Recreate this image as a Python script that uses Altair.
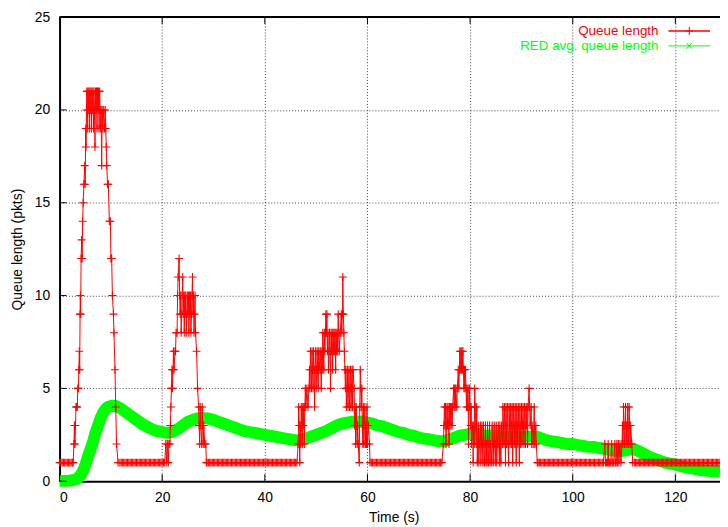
import altair as alt
import pandas as pd

# ---------------- data ----------------
# Queue length (pkts) during the bursts: (time s, packets)
BURST_1 = [(0.0, 1), (0.25, 1), (0.5, 1), (0.75, 1), (1.0, 1), (1.25, 1), (1.5, 1), (1.75, 1),
           (2.0, 1), (2.25, 1), (2.5, 1), (2.65, 1),
           (2.8, 2), (2.9, 3), (3.0, 2), (3.1, 3), (3.2, 4), (3.35, 4), (3.45, 4), (3.55, 5),
           (3.67, 5), (3.75, 6), (3.86, 7), (3.92, 6), (4.0, 9), (4.05, 10), (4.1, 9), (4.2, 12),
           (4.3, 13), (4.4, 12), (4.5, 14), (4.6, 15), (4.75, 16), (4.9, 17), (5.0, 16), (5.1, 19),
           (5.15, 18), (5.25, 20), (5.3, 21), (5.4, 19), (5.5, 21), (5.6, 20), (5.7, 21), (5.8, 19),
           (5.9, 21), (6.0, 20), (6.1, 21), (6.2, 19), (6.3, 21), (6.4, 20), (6.5, 21), (6.6, 19),
           (6.7, 21), (6.8, 20), (6.9, 18), (7.0, 21), (7.1, 20), (7.2, 21), (7.3, 19), (7.4, 21),
           (7.5, 20), (7.6, 21), (7.7, 19), (7.8, 21), (7.9, 20), (8.0, 19), (8.1, 20), (8.2, 17),
           (8.3, 20), (8.45, 19), (8.6, 20), (8.75, 19), (8.9, 20), (9.0, 19), (9.1, 18), (9.2, 17),
           (9.35, 16), (9.5, 16), (9.7, 14), (9.9, 14), (10.0, 12), (10.15, 12), (10.3, 10),
           (10.5, 9), (10.6, 8), (10.8, 6), (10.95, 4), (11.1, 2), (11.4, 1)]
BURST_2 = [(20.7, 2), (20.9, 1), (21.0, 2), (21.2, 1), (21.3, 2), (21.5, 2), (21.6, 3), (21.7, 4),
           (21.8, 5), (21.9, 6), (22.0, 5), (22.1, 6), (22.2, 7), (22.3, 6), (22.5, 7), (22.6, 7),
           (22.7, 8), (22.9, 8), (23.0, 10), (23.1, 11), (23.3, 12), (23.4, 10), (23.5, 9),
           (23.6, 10), (23.7, 8), (23.8, 9), (23.9, 10), (24.0, 11), (24.1, 9), (24.2, 10),
           (24.3, 8), (24.4, 10), (24.5, 9), (24.6, 10), (24.7, 8), (24.8, 9), (24.9, 10),
           (25.0, 9), (25.1, 10), (25.2, 8), (25.3, 10), (25.4, 9), (25.5, 10), (25.6, 8),
           (25.7, 9), (25.8, 10), (25.9, 11), (26.0, 9), (26.1, 10), (26.2, 8), (26.3, 9),
           (26.4, 10), (26.5, 8), (26.7, 7), (26.9, 5), (27.1, 4), (27.2, 3), (27.3, 2), (27.4, 4),
           (27.5, 3), (27.7, 2), (27.8, 4), (27.9, 3), (28.0, 2), (28.1, 3), (28.3, 2), (28.5, 2),
           (28.6, 1)]
BURST_3 = [(46.5, 2), (46.6, 4), (46.7, 3), (46.8, 1), (46.9, 3), (47.0, 2), (47.1, 4), (47.2, 3),
           (47.3, 2), (47.4, 4), (47.5, 3), (47.6, 4), (47.7, 2), (47.8, 4), (47.9, 5), (48.0, 4),
           (48.2, 5), (48.4, 4), (48.6, 5), (48.7, 6), (48.8, 5), (48.9, 7), (49.0, 6), (49.1, 5),
           (49.2, 7), (49.3, 6), (49.4, 5), (49.5, 7), (49.6, 6), (49.7, 4), (49.8, 6), (49.9, 7),
           (50.0, 5), (50.1, 6), (50.2, 7), (50.3, 6), (50.4, 5), (50.5, 7), (50.6, 6), (50.8, 7),
           (50.9, 6), (51.0, 5), (51.1, 7), (51.2, 6), (51.3, 8), (51.4, 7), (51.5, 6), (51.6, 8),
           (51.7, 7), (51.8, 8), (51.9, 9), (52.0, 8), (52.1, 9), (52.2, 7), (52.3, 8), (52.4, 6),
           (52.5, 7), (52.6, 8), (52.7, 7), (52.8, 5), (52.9, 8), (53.0, 7), (53.1, 8), (53.2, 6),
           (53.3, 8), (53.4, 7), (53.5, 8), (53.6, 7), (53.7, 8), (53.8, 6), (53.9, 8), (54.0, 7),
           (54.1, 8), (54.2, 7), (54.3, 9), (54.4, 8), (54.5, 7), (54.7, 8), (54.9, 9), (55.0, 8),
           (55.1, 9), (55.2, 11), (55.3, 9), (55.4, 8), (55.5, 7), (55.6, 6), (55.7, 5), (55.8, 6),
           (55.9, 4), (56.0, 5), (56.1, 6), (56.2, 4), (56.3, 5), (56.4, 6), (56.5, 4), (56.6, 5),
           (56.7, 6), (56.8, 4), (56.9, 5), (57.0, 6), (57.1, 4), (57.2, 6), (57.4, 5), (57.5, 3),
           (57.6, 4), (57.7, 2), (57.8, 4), (57.9, 3), (58.0, 2), (58.1, 3), (58.2, 2), (58.4, 1),
           (58.5, 4), (58.6, 6), (58.7, 5), (58.8, 4), (58.9, 5), (59.0, 3), (59.1, 2), (59.2, 4),
           (59.3, 2), (59.4, 3), (59.5, 4), (59.6, 2), (59.7, 3), (59.8, 2), (59.9, 4), (60.0, 2),
           (60.2, 3), (60.4, 2), (60.5, 1)]
BURST_4 = [(74.8, 2), (74.9, 3), (75.0, 4), (75.1, 3), (75.2, 4), (75.3, 2), (75.4, 3), (75.5, 4),
           (75.6, 3), (75.7, 4), (75.8, 3), (75.9, 2), (76.0, 4), (76.1, 3), (76.2, 4), (76.3, 3),
           (76.4, 4), (76.5, 3), (76.6, 4), (76.8, 5), (76.9, 4), (77.0, 5), (77.1, 4), (77.2, 5),
           (77.4, 4), (77.5, 5), (77.7, 6), (77.8, 5), (77.9, 6), (78.0, 7), (78.1, 6), (78.2, 7),
           (78.3, 6), (78.4, 7), (78.5, 6), (78.6, 7), (78.7, 6), (78.8, 5), (78.9, 6), (79.0, 5),
           (79.1, 6), (79.2, 5), (79.3, 4), (79.4, 5), (79.5, 4), (79.6, 5), (79.7, 2), (79.8, 4),
           (79.9, 5), (80.0, 4), (80.1, 3), (80.2, 4), (80.3, 2), (80.5, 3), (80.6, 1), (80.7, 3),
           (80.8, 2), (80.9, 5), (81.0, 4), (81.1, 3), (81.2, 2), (81.3, 4), (81.4, 1), (81.5, 2),
           (81.6, 3), (81.7, 1), (81.8, 2), (82.0, 3), (82.1, 1), (82.2, 2), (82.3, 3), (82.4, 2),
           (82.5, 1), (82.6, 3), (82.7, 2), (82.8, 1), (82.9, 2), (83.0, 3), (83.1, 1), (83.2, 2),
           (83.3, 1), (83.4, 3), (83.5, 2), (83.6, 1), (83.7, 2), (83.8, 3), (83.9, 1), (84.0, 2),
           (84.2, 1), (84.3, 3), (84.4, 2), (84.5, 1), (84.6, 2), (84.7, 3), (84.8, 2), (84.9, 1),
           (85.0, 2), (85.1, 3), (85.2, 1), (85.3, 2), (85.5, 3), (85.6, 2), (85.7, 1), (85.8, 3),
           (85.9, 2), (86.0, 1), (86.1, 3), (86.3, 2), (86.4, 4), (86.5, 3), (86.6, 2), (86.7, 4),
           (86.8, 3), (86.9, 1), (87.0, 4), (87.1, 2), (87.2, 3), (87.3, 4), (87.4, 2), (87.5, 1),
           (87.6, 4), (87.7, 3), (87.8, 2), (87.9, 4), (88.0, 3), (88.1, 2), (88.2, 4), (88.3, 1),
           (88.4, 3), (88.5, 4), (88.6, 2), (88.7, 3), (88.8, 4), (88.9, 2), (89.0, 1), (89.1, 4),
           (89.2, 3), (89.3, 2), (89.4, 4), (89.5, 3), (89.6, 1), (89.7, 4), (89.8, 2), (89.9, 3),
           (90.0, 4), (90.1, 2), (90.2, 3), (90.3, 4), (90.4, 3), (90.5, 2), (90.6, 4), (90.7, 3),
           (90.8, 2), (90.9, 4), (91.0, 3), (91.1, 4), (91.2, 2), (91.3, 4), (91.5, 5), (91.6, 4),
           (91.7, 3), (91.9, 4), (92.0, 2), (92.1, 3), (92.3, 2), (92.5, 4), (92.6, 2), (92.8, 3),
           (92.9, 2), (93.1, 1)]
BURST_5 = [(106.25, 2), (106.4, 1), (106.6, 1), (106.8, 1), (106.9, 2), (107.0, 1), (107.2, 1),
           (107.4, 1), (107.6, 2), (107.7, 1), (107.85, 1), (108.0, 1), (108.2, 2), (108.3, 1),
           (108.45, 1), (108.6, 2), (108.7, 1), (108.9, 2), (109.0, 1), (109.2, 2), (109.4, 1),
           (109.6, 2), (109.7, 3), (109.8, 2), (109.9, 4), (110.0, 3), (110.1, 2), (110.2, 3),
           (110.3, 4), (110.4, 2), (110.5, 3), (110.6, 2), (110.7, 4), (110.8, 3), (110.9, 2),
           (111.0, 4), (111.1, 3), (111.2, 2), (111.3, 3), (111.5, 2), (111.7, 1)]

# Sample times of the idle stretches, where the queue sits at one packet
IDLE_LEVEL = 1
IDLE_1_T = [11.75, 12.0, 12.25, 12.5, 12.75, 13.0, 13.25, 13.5, 13.75, 14.0, 14.25, 14.5,
            14.75, 15.0, 15.25, 15.5, 15.75, 16.0, 16.25, 16.5, 16.75, 17.0, 17.25, 17.5,
            17.75, 18.0, 18.25, 18.5, 18.75, 19.0, 19.25, 19.5, 19.75, 20.0, 20.25, 20.5]
IDLE_2_T = [28.75, 29.0, 29.25, 29.5, 29.75, 30.0, 30.25, 30.5, 30.75, 31.0, 31.25, 31.5,
            31.75, 32.0, 32.25, 32.5, 32.75, 33.0, 33.25, 33.5, 33.75, 34.0, 34.25, 34.5,
            34.75, 35.0, 35.25, 35.5, 35.75, 36.0, 36.25, 36.5, 36.75, 37.0, 37.25, 37.5,
            37.75, 38.0, 38.25, 38.5, 38.75, 39.0, 39.25, 39.5, 39.75, 40.0, 40.25, 40.5,
            40.75, 41.0, 41.25, 41.5, 41.75, 42.0, 42.25, 42.5, 42.75, 43.0, 43.25, 43.5,
            43.75, 44.0, 44.25, 44.5, 44.75, 45.0, 45.25, 45.5, 45.75, 46.0, 46.25]
IDLE_3_T = [60.75, 61.0, 61.25, 61.5, 61.75, 62.0, 62.25, 62.5, 62.75, 63.0, 63.25, 63.5,
            63.75, 64.0, 64.25, 64.5, 64.75, 65.0, 65.25, 65.5, 65.75, 66.0, 66.25, 66.5,
            66.75, 67.0, 67.25, 67.5, 67.75, 68.0, 68.25, 68.5, 68.75, 69.0, 69.25, 69.5,
            69.75, 70.0, 70.25, 70.5, 70.75, 71.0, 71.25, 71.5, 71.75, 72.0, 72.25, 72.5,
            72.75, 73.0, 73.25, 73.5, 73.75, 74.0, 74.25, 74.5]
IDLE_4_T = [93.25, 93.5, 93.75, 94.0, 94.25, 94.5, 94.75, 95.0, 95.25, 95.5, 95.75, 96.0,
            96.25, 96.5, 96.75, 97.0, 97.25, 97.5, 97.75, 98.0, 98.25, 98.5, 98.75, 99.0,
            99.25, 99.5, 99.75, 100.0, 100.25, 100.5, 100.75, 101.0, 101.25, 101.5, 101.75,
            102.0, 102.25, 102.5, 102.75, 103.0, 103.25, 103.5, 103.75, 104.0, 104.25, 104.5,
            104.75, 105.0, 105.25, 105.5, 105.75, 106.0]
IDLE_5_T = [112.0, 112.25, 112.5, 112.75, 113.0, 113.25, 113.5, 113.75, 114.0, 114.25, 114.5,
            114.75, 115.0, 115.25, 115.5, 115.75, 116.0, 116.25, 116.5, 116.75, 117.0, 117.25,
            117.5, 117.75, 118.0, 118.25, 118.5, 118.75, 119.0, 119.25, 119.5, 119.75, 120.0,
            120.25, 120.5, 120.75, 121.0, 121.25, 121.5, 121.75, 122.0, 122.25, 122.5, 122.75,
            123.0, 123.25, 123.5, 123.75, 124.0, 124.25, 124.5, 124.75, 125.0, 125.25, 125.5,
            125.75, 126.0, 126.25, 126.5, 126.75, 127.0, 127.25, 127.5, 127.75, 128.0, 128.25,
            128.5, 128.75]

# RED average queue length: (time s, packets)
RED_AVG = [(0, 0.02), (1, 0.02), (2, 0.03), (3, 0.08), (3.5, 0.15), (4, 0.3), (4.5, 0.5), (5, 0.85),
           (5.5, 1.3), (6, 1.7), (6.5, 2.1), (7, 2.6), (7.5, 3.0), (8, 3.4), (8.5, 3.7), (9, 3.9),
           (9.5, 4.0), (10, 4.05), (11, 4.05), (12, 3.9), (13, 3.7), (14, 3.5), (15, 3.3), (16, 3.1),
           (17, 2.95), (18, 2.8), (19, 2.7), (20, 2.65), (21, 2.6), (22, 2.65), (23, 2.8), (24, 3.0),
           (25, 3.2), (26, 3.3), (27, 3.4), (28, 3.4), (29, 3.38), (30, 3.3), (31, 3.2), (32, 3.1),
           (33, 3.0), (34, 2.9), (35, 2.8), (36, 2.7), (37, 2.65), (38, 2.6), (39, 2.55), (40, 2.5),
           (41, 2.45), (42, 2.4), (43, 2.35), (44, 2.3), (45, 2.25), (46, 2.2), (47, 2.2), (48, 2.3),
           (49, 2.4), (50, 2.5), (51, 2.6), (52, 2.7), (53, 2.85), (54, 3.0), (55, 3.1), (56, 3.15),
           (57, 3.2), (58, 3.2), (59, 3.2), (60, 3.15), (61, 3.1), (62, 3.0), (63, 2.95), (64, 2.85),
           (65, 2.75), (66, 2.65), (67, 2.6), (68, 2.5), (69, 2.45), (70, 2.35), (71, 2.3), (72, 2.25),
           (73, 2.2), (74, 2.15), (75, 2.15), (76, 2.25), (77, 2.35), (78, 2.45), (79, 2.5), (80, 2.55),
           (81, 2.55), (82, 2.5), (83, 2.45), (84, 2.45), (85, 2.45), (86, 2.4), (87, 2.4), (88, 2.4),
           (89, 2.4), (90, 2.4), (91, 2.4), (92, 2.4), (93, 2.4), (94, 2.3), (95, 2.2), (96, 2.15),
           (97, 2.1), (98, 2.05), (99, 2.0), (100, 2.0), (101, 1.95), (102, 1.9), (103, 1.85),
           (104, 1.85), (105, 1.8), (106, 1.75), (107, 1.7), (108, 1.65), (109, 1.6), (110, 1.65),
           (111, 1.7), (112, 1.72), (113, 1.6), (114, 1.45), (115, 1.3), (116, 1.2), (117, 1.1),
           (118, 1.0), (119, 0.95), (120, 0.9), (121, 0.82), (122, 0.75), (123, 0.7), (124, 0.65),
           (125, 0.6), (126, 0.57), (127, 0.55), (128, 0.53), (128.7, 0.52)]

X_TICKS = [0, 20, 40, 60, 80, 100, 120]
Y_TICKS = [0, 5, 10, 15, 20, 25]
LEGEND_LABELS = ["Queue length", "RED avg. queue length"]
RED = "#ff0000"
GREEN = "#00ff00"
FONT = "Liberation Sans"

# ---------------- chart ----------------
W, H = 666, 468
X_MAX = 128.7


def idle(times):
    return [(t, IDLE_LEVEL) for t in times]


queue = pd.DataFrame(BURST_1 + idle(IDLE_1_T) + BURST_2 + idle(IDLE_2_T) + BURST_3 +
                     idle(IDLE_3_T) + BURST_4 + idle(IDLE_4_T) + BURST_5 + idle(IDLE_5_T),
                     columns=["t", "q"])
avg = pd.DataFrame(RED_AVG, columns=["t", "q"])

xs = alt.Scale(domain=[0, X_MAX], nice=False, zero=False)
ys = alt.Scale(domain=[0, 25], nice=False)

x_axis = alt.Axis(values=X_TICKS, title="Time (s)", grid=True, ticks=False,
                  domain=True, domainColor="#000000", domainWidth=2,
                  labelPadding=9, titleX=337, titleY=41, titleBaseline="alphabetic")
y_axis = alt.Axis(values=Y_TICKS, title="Queue length (pkts)", grid=True, ticks=False,
                  domain=True, domainColor="#000000", domainWidth=2,
                  labelPadding=10, titleX=-42, titleY=H / 2, titleAngle=270,
                  titleBaseline="middle", titleAlign="center")

X = alt.X("t:Q", scale=xs, axis=x_axis)
Y = alt.Y("q:Q", scale=ys, axis=y_axis)

PLUS = "M-1,0L1,0M0,-1L0,1"
CROSS = "M-1,-1L1,1M-1,1L1,-1"

green_line = alt.Chart(avg).mark_line(
    color=GREEN, strokeWidth=12, clip=False, strokeJoin="round"
).encode(x=X, y=Y)

red_line = alt.Chart(queue).mark_line(color=RED, strokeWidth=1, clip=False).encode(x=X, y=Y)
red_pts = alt.Chart(queue).mark_point(
    shape=PLUS, size=64, filled=False, stroke=RED, strokeWidth=1.1, opacity=1, clip=False
).encode(x=X, y=Y)

xt = pd.DataFrame({"t": X_TICKS})
yt = pd.DataFrame({"q": Y_TICKS})
ticks_bottom = alt.Chart(xt).mark_rule(color="black", strokeWidth=1).encode(
    x=X, y=alt.value(H), y2=alt.value(H - 7))
ticks_top = alt.Chart(xt).mark_rule(color="black", strokeWidth=1).encode(
    x=X, y=alt.value(0), y2=alt.value(7))
ticks_left = alt.Chart(yt).mark_rule(color="black", strokeWidth=1).encode(
    y=Y, x=alt.value(0), x2=alt.value(7))

one = pd.DataFrame({"k": [0]})
top_border = alt.Chart(one).mark_rule(color="black", strokeWidth=2).encode(
    x=alt.value(0), x2=alt.value(W), y=alt.value(0))

LEG_Y1, LEG_Y2 = 14, 29
leg_red_text = alt.Chart(one).mark_text(
    align="right", baseline="middle", font=FONT, fontSize=13.5, color=RED
).encode(x=alt.value(604), y=alt.value(LEG_Y1), text=alt.value(LEGEND_LABELS[0]))
leg_green_text = alt.Chart(one).mark_text(
    align="right", baseline="middle", font=FONT, fontSize=13.5, color=GREEN
).encode(x=alt.value(604), y=alt.value(LEG_Y2), text=alt.value(LEGEND_LABELS[1]))
leg_red_line = alt.Chart(one).mark_rule(color=RED, strokeWidth=1.5).encode(
    x=alt.value(614), x2=alt.value(656), y=alt.value(LEG_Y1))
leg_green_line = alt.Chart(one).mark_rule(color=GREEN, strokeWidth=1).encode(
    x=alt.value(614), x2=alt.value(656), y=alt.value(LEG_Y2))
leg_red_pt = alt.Chart(one).mark_point(
    shape=PLUS, size=64, filled=False, stroke=RED, strokeWidth=1, opacity=1
).encode(x=alt.value(635), y=alt.value(LEG_Y1))
leg_green_pt = alt.Chart(one).mark_point(
    shape=CROSS, size=36, filled=False, stroke=GREEN, strokeWidth=1, opacity=1
).encode(x=alt.value(635), y=alt.value(LEG_Y2))

chart = alt.layer(
    green_line, red_line, red_pts,
    ticks_bottom, ticks_top, ticks_left, top_border,
    leg_red_text, leg_green_text, leg_red_line, leg_green_line, leg_red_pt, leg_green_pt,
).properties(
    width=W, height=H,
    padding={"left": 52, "top": 7, "right": 0, "bottom": 44},
    autosize=alt.AutoSizeParams(type="none"),
    background="white",
).configure_view(
    stroke=None
).configure_axis(
    labelFont=FONT, titleFont=FONT, labelFontSize=14, titleFontSize=14,
    titleFontWeight="normal", labelColor="#000000", titleColor="#000000",
    gridColor="#333333", gridDash=[1, 2], gridOpacity=0.9, gridWidth=1,
)

chart.save("out.html", embed_options={"renderer": "svg", "actions": False})
